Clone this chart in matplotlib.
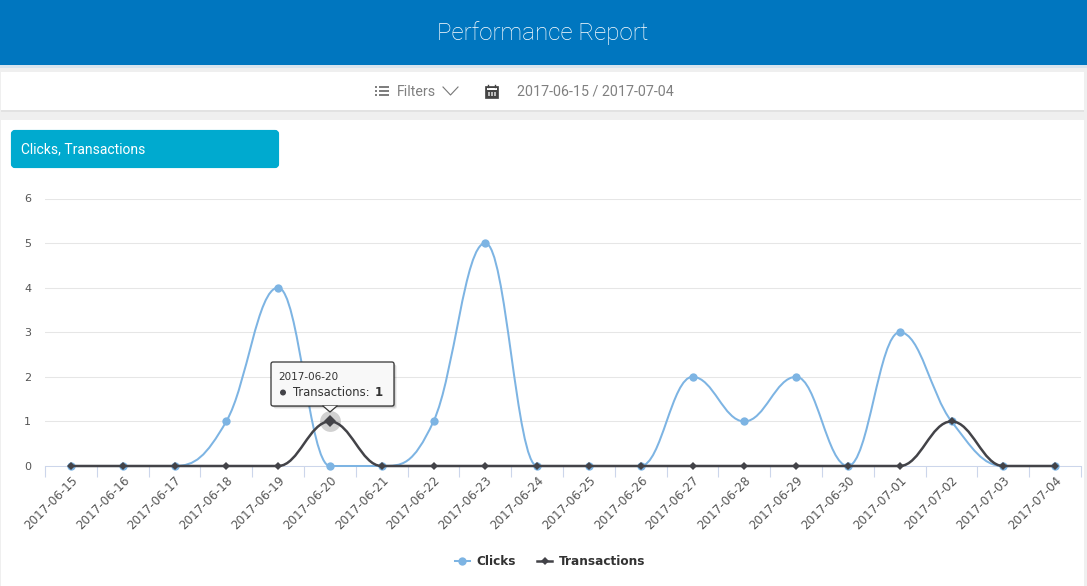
import matplotlib
matplotlib.use("Agg")
import matplotlib.pyplot as plt
from matplotlib.patches import Circle, FancyBboxPatch, PathPatch, Polygon, Rectangle
from matplotlib.path import Path

W, H = 1087, 586

dates = [
    "2017-06-15", "2017-06-16", "2017-06-17", "2017-06-18", "2017-06-19",
    "2017-06-20", "2017-06-21", "2017-06-22", "2017-06-23", "2017-06-24",
    "2017-06-25", "2017-06-26", "2017-06-27", "2017-06-28", "2017-06-29",
    "2017-06-30", "2017-07-01", "2017-07-02", "2017-07-03", "2017-07-04",
]
clicks = [0, 0, 0, 1, 4, 0, 0, 1, 5, 0, 0, 0, 2, 1, 2, 0, 3, 1, 0, 0]
transactions = [0, 0, 0, 0, 0, 1, 0, 0, 0, 0, 0, 0, 0, 0, 0, 0, 0, 1, 0, 0]
y_ticks = [0, 1, 2, 3, 4, 5, 6]

BLUE = "#7db4e3"
DARK = "#434348"


def spline_path(values):
    # same control point rule as a Highcharts spline
    verts = [(0, values[0])]
    codes = [Path.MOVETO]
    right_prev = (0, values[0])
    n = len(values)
    for i in range(1, n):
        y = values[i]
        last_y = values[i - 1]
        if i < n - 1:
            next_y = values[i + 1]
            left_x = i - 0.4
            left_y = (1.5 * y + last_y) / 2.5
            right_x = i + 0.4
            right_y = (1.5 * y + next_y) / 2.5
            # move the tangent so it goes through the point
            shift = y - (left_y + right_y) / 2
            left_y += shift
            right_y += shift
            if left_y > last_y and left_y > y:
                left_y = max(last_y, y)
                right_y = 2 * y - left_y
            elif left_y < last_y and left_y < y:
                left_y = min(last_y, y)
                right_y = 2 * y - left_y
            if right_y > next_y and right_y > y:
                right_y = max(next_y, y)
                left_y = 2 * y - right_y
            elif right_y < next_y and right_y < y:
                right_y = min(next_y, y)
                left_y = 2 * y - right_y
        else:
            left_x, left_y, right_x, right_y = i, y, i, y
        verts += [right_prev, (left_x, left_y), (i, y)]
        codes += [Path.CURVE4, Path.CURVE4, Path.CURVE4]
        right_prev = (right_x, right_y)
    return Path(verts, codes)


plt.rcParams["font.family"] = ["DejaVu Sans"]
fig = plt.figure(figsize=(W / 100, H / 100), dpi=100, facecolor="#efefef")

# page furniture, drawn in pixel coordinates
bg = fig.add_axes([0, 0, 1, 1], zorder=0)
bg.set_xlim(0, W)
bg.set_ylim(H, 0)
bg.axis("off")
bg.add_patch(Rectangle((0, 65), W, 3, color="#d8e4ee", lw=0))
bg.add_patch(Rectangle((0, 0), W, 65, color="#0076bf", lw=0))
bg.add_patch(Rectangle((1, 110), 1083, 2, color="#e2e2e2", lw=0))
bg.add_patch(Rectangle((1, 72), 1083, 38, color="white", lw=0))
bg.add_patch(Rectangle((1, 120), 1083, 466, color="white", lw=0))
bg.add_patch(FancyBboxPatch((13, 132), 264, 34, boxstyle="round,pad=0,rounding_size=2",
                            mutation_aspect=1, fc="#00aacf", ec="#00aacf", lw=3))
bg.text(542.5, 33, "Performance Report", color="white", fontsize=17.4, family="Roboto",
        fontweight="light", ha="center", va="center")
bg.text(21, 149, "Clicks, Transactions", color="white", fontsize=10, family="Roboto",
        ha="left", va="center")
bg.text(397, 91.5, "Filters", color="#808080", fontsize=10.2, family="Roboto", ha="left", va="center")
bg.text(517, 91.5, "2017-06-15 / 2017-07-04", color="#808080", fontsize=10.25, family="Roboto",
        ha="left", va="center")
# list icon
for yy in (87, 91, 95):
    bg.plot([375, 377], [yy, yy], color="#666666", lw=1.2, solid_capstyle="butt")
    bg.plot([379, 389], [yy, yy], color="#666666", lw=1.2, solid_capstyle="butt")
# chevron
bg.plot([443, 450.5, 458], [87, 95, 87], color="#777777", lw=0.8)
# calendar icon
bg.add_patch(Rectangle((485, 86), 13, 12, fc="#444444", ec="#444444", lw=0.5))
bg.add_patch(Rectangle((486.5, 88), 10, 2, fc="white", lw=0))
for cx in (488, 491, 494):
    bg.add_patch(Rectangle((cx, 91.5), 1.5, 4.5, fc="#bbbbbb", lw=0))
for cx in (488, 495):
    bg.plot([cx, cx], [84.5, 87], color="#444444", lw=1)

# chart
ax = fig.add_axes([45 / W, 1 - 466 / H, (1081 - 45) / W, (466 - 198.5) / H], zorder=1)
ax.patch.set_alpha(0)
x = list(range(len(dates)))
ax.set_xlim(-0.5, len(dates) - 0.5)
ax.set_ylim(0, 6)
ax.set_yticks(y_ticks)
ax.set_xticks(x)
ax.set_xticklabels(dates, rotation=45, ha="right", rotation_mode="anchor",
                   fontsize=8.6, color="#555555")
ax.tick_params(axis="x", which="major", length=0, pad=5.5)
ax.set_xticks([i - 0.5 for i in range(len(dates) + 1)], minor=True)
ax.tick_params(axis="x", which="minor", length=8, width=0.8, color="#ccd6eb")
ax.tick_params(axis="y", length=0, labelsize=8, labelcolor="#555555", pad=10)
ax.grid(axis="y", color="#e6e6e6", lw=0.75)
ax.set_axisbelow(True)
for side in ("top", "right", "left"):
    ax.spines[side].set_visible(False)
ax.spines["bottom"].set_color("#ccd6eb")
ax.spines["bottom"].set_linewidth(0.75)

ax.add_patch(PathPatch(spline_path(clicks), fc="none", ec=BLUE, lw=1.45, clip_on=False, zorder=3))
ax.plot(x, clicks, "o", color=BLUE, ms=6, mew=0, clip_on=False, zorder=3, label="Clicks")
ax.add_patch(PathPatch(spline_path(transactions), fc="none", ec=DARK, lw=1.8, clip_on=False, zorder=4))
ax.plot(x, transactions, "D", color=DARK, ms=4.4, mew=0, clip_on=False, zorder=4, label="Transactions")

# hover state on the highlighted point
hover = 5
ax.plot([hover], [transactions[hover]], "o", color="#999999", alpha=0.45, ms=15, mew=0, zorder=3.5)
ax.plot([hover], [transactions[hover]], "D", color=DARK, ms=6, mew=0, zorder=5)

# legend
legend_clicks = plt.Line2D([], [], color=BLUE, lw=1.45, marker="o", ms=6, mew=0)
legend_trans = plt.Line2D([], [], color=DARK, lw=1.8, marker="D", ms=4.4, mew=0)
leg = fig.legend([legend_clicks, legend_trans], ["Clicks", "Transactions"], ncol=2, frameon=False,
                 loc="center", bbox_to_anchor=(550 / W, 1 - 561.5 / H), handlelength=1.25,
                 handletextpad=0.55, columnspacing=1.75,
                 prop={"size": 8.7, "weight": "bold"})
for t in leg.get_texts():
    t.set_color("#333333")

# tooltip
top = fig.add_axes([0, 0, 1, 1], zorder=2)
top.set_xlim(0, W)
top.set_ylim(H, 0)
top.axis("off")
top.patch.set_alpha(0)
for off, a in ((3, 0.06), (2, 0.1), (1, 0.15)):
    top.add_patch(FancyBboxPatch((271 + off, 362 + off), 123, 44, boxstyle="round,pad=0,rounding_size=2",
                                 fc="black", ec="none", alpha=a))
top.add_patch(FancyBboxPatch((271, 362), 123, 44, boxstyle="round,pad=0,rounding_size=2",
                             fc="#f8f8f8", ec="#333333", lw=0.9))
top.add_patch(Polygon([[323, 406], [330, 412], [337, 406]], fc="#f8f8f8", ec="none"))
top.plot([323, 330, 337], [406, 412, 406], color="#333333", lw=0.9)
top.text(278, 377.5, dates[hover], fontsize=7.5, color="#333333", ha="left", va="center")
top.add_patch(Circle((283, 392.5), 3, fc=DARK, ec="none"))
top.text(293, 392.5, "Transactions: ", fontsize=8.4, color="#333333", ha="left", va="center")
top.text(375, 392.5, str(transactions[hover]), fontsize=8.5, color="#333333", fontweight="bold",
         ha="left", va="center")

fig.savefig("out.png", dpi=100, facecolor=fig.get_facecolor())
